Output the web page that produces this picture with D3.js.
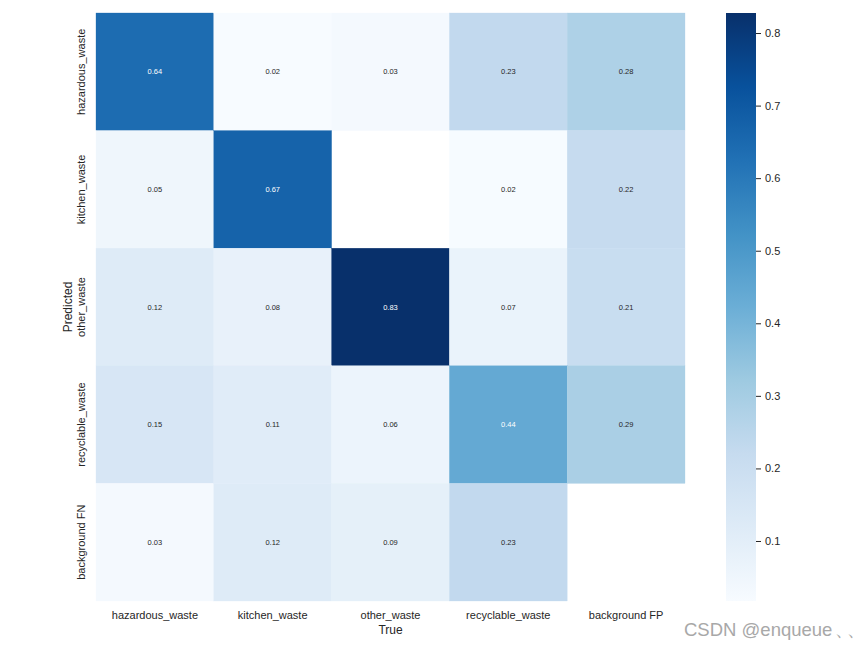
<!DOCTYPE html>
<html>
<head>
<meta charset="utf-8">
<script src="https://cdn.jsdelivr.net/npm/d3@7"></script>
<style>
  html, body { margin: 0; padding: 0; background: #fff; }
  text { font-family: "Liberation Sans", Arial, sans-serif; }
</style>
</head>
<body>
<svg id="chart" width="865" height="649"></svg>
<script>
// ---- data ----
const trueLabels = ["hazardous_waste", "kitchen_waste", "other_waste", "recyclable_waste", "background FP"];
const predLabels = ["hazardous_waste", "kitchen_waste", "other_waste", "recyclable_waste", "background FN"];
// rows = Predicted, columns = True (null = blank cell)
const rowHazardous  = [0.64, 0.0173, 0.03, 0.23, 0.28];
const rowKitchen    = [0.05, 0.67, null, 0.02, 0.22];
const rowOther      = [0.12, 0.08, 0.8276, 0.07, 0.21];
const rowRecyclable = [0.15, 0.11, 0.06, 0.44, 0.29];
const rowBackground = [0.03, 0.12, 0.09, 0.23, null];
const matrix = [rowHazardous, rowKitchen, rowOther, rowRecyclable, rowBackground];
const colorbarTicks = [0.1, 0.2, 0.3, 0.4, 0.5, 0.6, 0.7, 0.8];
const bluesStops = ["#f7fbff", "#deebf7", "#c6dbef", "#9ecae1", "#6baed6", "#4292c6", "#2171b5", "#08519c", "#08306b"];

// ---- layout ----
const svg = d3.select("#chart");
const plotL = 96, plotR = 685, plotT = 13, plotB = 601;
const cbLeft = 726, cbRight = 756;

const flat = matrix.flat().filter(v => v !== null);
const vmin = d3.min(flat), vmax = d3.max(flat);

const color = d3.scaleLinear()
  .domain(bluesStops.map((_, i) => vmin + i / (bluesStops.length - 1) * (vmax - vmin)))
  .range(bluesStops)
  .interpolate(d3.interpolateRgb)
  .clamp(true);

const x = d3.scaleBand().domain(trueLabels).range([plotL, plotR]);
const y = d3.scaleBand().domain(predLabels).range([plotT, plotB]);

function luminance(c) {
  const rgb = d3.rgb(c);
  const f = v => { v /= 255; return v <= 0.03928 ? v / 12.92 : Math.pow((v + 0.055) / 1.055, 2.4); };
  return 0.2126 * f(rgb.r) + 0.7152 * f(rgb.g) + 0.0722 * f(rgb.b);
}

const cells = [];
matrix.forEach((row, i) => row.forEach((v, j) => {
  if (v !== null) cells.push({ r: predLabels[i], c: trueLabels[j], v });
}));

const g = svg.append("g");
g.selectAll("rect.cell").data(cells).join("rect")
  .attr("class", "cell")
  .attr("x", d => x(d.c))
  .attr("y", d => y(d.r))
  .attr("width", x.bandwidth())
  .attr("height", y.bandwidth())
  .attr("fill", d => color(d.v))
  .attr("stroke", d => color(d.v))
  .attr("stroke-width", 0.3);

g.selectAll("text.annot").data(cells).join("text")
  .attr("class", "annot")
  .attr("x", d => x(d.c) + x.bandwidth() / 2)
  .attr("y", d => y(d.r) + y.bandwidth() / 2)
  .attr("text-anchor", "middle")
  .attr("dominant-baseline", "central")
  .attr("font-size", 7.5)
  .attr("fill", d => luminance(color(d.v)) > 0.408 ? "#262626" : "#ffffff")
  .text(d => d3.format(".2f")(d.v));

// x tick labels
svg.append("g").selectAll("text").data(trueLabels).join("text")
  .attr("x", d => x(d) + x.bandwidth() / 2)
  .attr("y", 619)
  .attr("text-anchor", "middle")
  .attr("font-size", 11)
  .attr("fill", "#262626")
  .text(d => d);

// y tick labels
svg.append("g").selectAll("text").data(predLabels).join("text")
  .attr("transform", d => `translate(85,${y(d) + y.bandwidth() / 2}) rotate(-90)`)
  .attr("text-anchor", "middle")
  .attr("font-size", 11)
  .attr("fill", "#262626")
  .text(d => d);

// axis titles
svg.append("text")
  .attr("x", (plotL + plotR) / 2).attr("y", 634)
  .attr("text-anchor", "middle").attr("font-size", 12).attr("fill", "#262626")
  .text("True");
svg.append("text")
  .attr("transform", `translate(72,${(plotT + plotB) / 2}) rotate(-90)`)
  .attr("text-anchor", "middle").attr("font-size", 12).attr("fill", "#262626")
  .text("Predicted");

// colorbar
const defs = svg.append("defs");
const grad = defs.append("linearGradient").attr("id", "cbgrad")
  .attr("x1", 0).attr("y1", 1).attr("x2", 0).attr("y2", 0);
grad.selectAll("stop").data(bluesStops).join("stop")
  .attr("offset", (d, i) => i / (bluesStops.length - 1))
  .attr("stop-color", d => d);
svg.append("rect")
  .attr("x", cbLeft).attr("y", plotT)
  .attr("width", cbRight - cbLeft).attr("height", plotB - plotT)
  .attr("fill", "url(#cbgrad)");

const cbScale = d3.scaleLinear().domain([vmin, vmax]).range([plotB, plotT]);
const cbAxis = d3.axisRight(cbScale).tickValues(colorbarTicks).tickSize(5).tickPadding(4)
  .tickFormat(d3.format(".1f"));
const cbG = svg.append("g").attr("transform", `translate(${cbRight},0)`).call(cbAxis);
cbG.select(".domain").remove();
cbG.selectAll("text").attr("font-size", 11).attr("fill", "#262626")
  .attr("font-family", "Liberation Sans, Arial, sans-serif");
cbG.selectAll("line").attr("stroke", "#262626");

// watermark
svg.append("text")
  .attr("x", 684).attr("y", 636)
  .attr("font-size", 18.5).attr("fill", "#a8a8a8")
  .text("CSDN @enqueue");
svg.append("text")
  .attr("x", 835).attr("y", 636)
  .attr("font-size", 18).attr("fill", "#a8a8a8")
  .attr("letter-spacing", -6)
  .text("、、");
</script>
</body>
</html>
